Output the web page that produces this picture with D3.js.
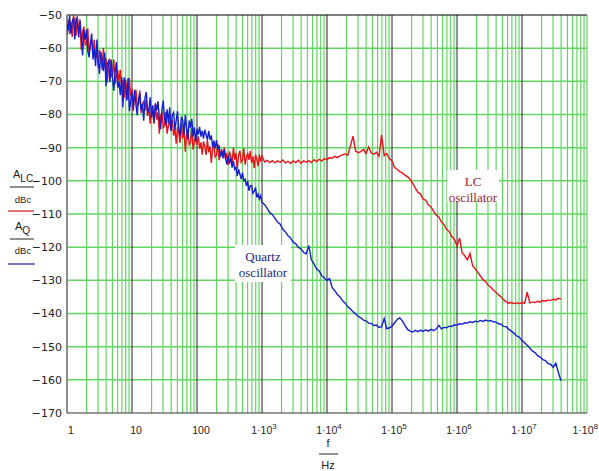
<!DOCTYPE html>
<html><head><meta charset="utf-8">
<script src="https://cdn.jsdelivr.net/npm/d3@7/dist/d3.min.js"></script>
<style>body{margin:0;background:#fff}svg{display:block}</style>
</head><body>
<svg id="c" width="599" height="471"></svg>
<script>
// ---- data ----
const yTickValues = [-170,-160,-150,-140,-130,-120,-110,-100,-90,-80,-70,-60,-50];
const xDecadeExps = [0,1,2,3,4,5,6,7,8];
const xDomain = [1, 1e8];
const yDomain = [-170, -50];
// log10(f) sampling grid of the measurement
const lowStart = 0, lowStep = 0.02;
const highStart = 3.04, highStep = 0.04;

const quartzLow = [-52.6,-54.7,-50.2,-55.6,-52,-50.8,-57.4,-50.8,-52.6,-56.8,
-51.4,-56.8,-62.2,-54.4,-57.4,-54.4,-61,-62.8,-58.6,-55.6,
-63.4,-60.2,-65.4,-57.4,-63.8,-67.8,-61.1,-64,-66.9,-61.4,
-71.5,-64.7,-63.9,-70.3,-63.5,-68.7,-72.8,-67.3,-64.2,-71.9,
-70,-74.2,-68.8,-77.8,-68.8,-71.8,-75.8,-69,-79,-75.8,
-73,-78.3,-72.6,-76.9,-80.2,-75.5,-73.6,-78.7,-76.8,-81.9,
-75,-73.2,-79.4,-78.6,-74.8,-81,-77.2,-82.4,-76.6,-78.8,
-76,-81.2,-84.4,-78.6,-75.8,-81,-83.2,-78.4,-82.6,-77.8,
-85,-80.2,-79.4,-84.6,-81.8,-79,-84.2,-86.4,-80.6,-81.8,
-86,-80.2,-84.4,-87.6,-81.8,-84,-81.3,-86.6,-83.9,-88.2,
-84.3,-86.1,-83.7,-86.7,-84.9,-87.3,-84.6,-86.1,-87.6,-84.9,
-87.6,-86.3,-89.8,-87.9,-90.2,-87.7,-90.6,-89.3,-92.8,-90.9,
-93.2,-90.6,-93.4,-95,-92.4,-94.5,-93.5,-96,-94,-96.5,
-96,-98.5,-96.5,-98,-99.5,-97.5,-100,-99.5,-101.5,-100,
-103,-101.5,-101.4,-103.8,-103.2,-102,-105,-104,-105.5,-104.5,-106.5];
const quartzHigh = [-107.2,-108.3,-109.6,-110.2,-111.3,-112.4,-113.1,-114.6,-115.4,-116.6,
-117.2,-118.5,-119.0,-120.1,-120.5,-121.6,-122.0,-119.5,-123.8,-125.0,
-126.6,-127.2,-128.6,-129.3,-130.0,-129.5,-132.2,-133.1,-134.3,-135.0,
-136.2,-136.9,-138.0,-138.6,-139.5,-140.1,-140.9,-141.3,-142.0,-142.2,
-142.9,-143.0,-143.6,-143.5,-144.2,-144.0,-141.5,-144.6,-144.3,-143.8,
-142.8,-141.8,-141.3,-142.2,-143.6,-144.8,-145.3,-145.6,-145.1,-145.5,
-145.0,-145.4,-144.9,-145.3,-144.8,-145.2,-144.7,-143.6,-144.6,-144.2,
-144.3,-143.8,-143.9,-143.4,-143.5,-143.1,-143.2,-142.8,-142.9,-142.5,
-142.7,-142.3,-142.5,-142.1,-142.4,-142.0,-142.3,-142.1,-142.5,-142.6,
-143.1,-143.3,-143.9,-144.0,-144.8,-145.4,-146.0,-146.8,-147.2,-148.1,
-148.8,-149.6,-150.4,-151.3,-151.8,-152.7,-153.1,-153.9,-154.2,-155.1,
-155.3,-156.2,-155.0,-157.8,-160.3];

const lcLow = [-56,-51.4,-55.8,-52.2,-56.6,-50,-52.6,-56.2,-50.3,-55.4,
-53,-60.5,-55,-53.5,-59,-58.5,-54,-61.5,-59,-57.5,
-61,-57.5,-63,-60.5,-66,-60.5,-63,-66.5,-60,-65.5,
-63,-70.4,-64.8,-63.2,-68.6,-68,-63.4,-70.8,-68.2,-66.6,
-70,-66.5,-72,-69.5,-75,-69.5,-72,-75.5,-69,-74.5,
-72.2,-78.9,-73.9,-72.5,-77.4,-76.9,-72.8,-79.5,-77.2,-75.8,
-78.9,-75.6,-80.4,-78,-82.8,-77.7,-79.8,-82.8,-76.8,-81.6,
-79.2,-85.8,-80.7,-79.2,-84,-83.4,-79.2,-85.8,-83.4,-81.9,
-84.9,-81.6,-86.4,-84,-88.8,-83.7,-85.7,-88.6,-82.5,-87.2,
-84.7,-91.2,-86,-84.4,-89.1,-88.4,-84.1,-90.6,-88.1,-86.5,
-89.2,-86.6,-90.3,-88.4,-92.1,-88.1,-89.8,-92.2,-87.6,-91.4,
-89.6,-94.6,-90.5,-89.2,-92.8,-92.2,-88.8,-93.8,-91.8,-90.5,
-92.7,-90,-93.6,-91.6,-95.2,-91.1,-92.6,-94.8,-90,-93.6,
-91.6,-96.5,-92.3,-90.9,-94.4,-93.7,-90.2,-95.1,-93,-91.6,
-93.7,-91,-94.6,-92.6,-96.2,-92.1,-93.5,-95.6,-92.1,-94.2,-92.5];
const lcHigh = [-94.3,-93.8,-94.5,-93.9,-94.6,-94.0,-94.4,-93.7,-94.6,-94.1,
-94.8,-94.0,-94.5,-93.8,-94.7,-94.0,-94.4,-93.9,-94.5,-93.6,
-94.2,-93.5,-94.0,-93.3,-93.6,-93.0,-93.2,-92.6,-93.0,-92.5,
-92.2,-91.9,-92.3,-89.5,-86.5,-91.0,-91.5,-91.2,-90.5,-91.8,
-89.8,-91.6,-92.0,-91.4,-92.6,-86.2,-92.4,-91.8,-93.3,-94.0,
-96.0,-96.5,-97.2,-97.6,-98.3,-98.8,-99.6,-100.8,-102.2,-103.5,
-104.0,-105.6,-105.8,-107.3,-107.8,-109.2,-110.3,-110.9,-112.4,-113.2,
-114.6,-115.3,-116.8,-117.6,-119.6,-117.2,-121.8,-122.6,-123.8,-121.9,
-125.6,-126.5,-127.6,-128.7,-129.8,-130.4,-131.5,-132.1,-133.0,-133.6,
-134.4,-135.0,-135.9,-136.5,-136.9,-136.7,-137.0,-136.8,-137.0,-136.7,
-136.9,-133.6,-136.8,-136.5,-136.7,-136.3,-136.5,-136.1,-136.3,-135.9,
-136.1,-135.7,-135.9,-135.4,-135.6];

// ---- chart ----
const svg = d3.select('#c');
const L = 67, R = 587, T = 15, B = 413;
const x = d3.scaleLog().domain(xDomain).range([L, R]);
const y = d3.scaleLinear().domain(yDomain).range([B, T]);
const green = '#62d662';

function series(low, high) {
  const a = low.map((v, i) => [Math.pow(10, lowStart + i * lowStep), v]);
  const b = high.map((v, i) => [Math.pow(10, highStart + i * highStep), v]);
  return a.concat(b);
}
const quartz = series(quartzLow, quartzHigh);
const lc = series(lcLow, lcHigh);

// grid: minor verticals
const minor = [];
xDecadeExps.slice(0, -1).forEach(e => { for (let k = 2; k <= 9; k++) minor.push(k * Math.pow(10, e)); });
svg.append('g').selectAll('line').data(minor).join('line')
  .attr('x1', d => x(d)).attr('x2', d => x(d)).attr('y1', T).attr('y2', B)
  .attr('stroke', green).attr('stroke-width', 1.2);
svg.append('line').attr('x1', x(1e8)).attr('x2', x(1e8)).attr('y1', T).attr('y2', B)
  .attr('stroke', green).attr('stroke-width', 1.2);
// horizontal grid
svg.append('g').selectAll('line').data(yTickValues.filter(v => v > -170 && v < -50)).join('line')
  .attr('x1', L).attr('x2', R).attr('y1', d => y(d)).attr('y2', d => y(d))
  .attr('stroke', green).attr('stroke-width', 1.5);
// decade lines
svg.append('g').selectAll('line').data(xDecadeExps.filter(e => e > 0 && e < 8)).join('line')
  .attr('x1', e => x(Math.pow(10, e))).attr('x2', e => x(Math.pow(10, e))).attr('y1', T).attr('y2', B)
  .attr('stroke', '#222').attr('stroke-width', 1);
// frame
svg.append('line').attr('x1', L).attr('x2', R).attr('y1', T).attr('y2', T).attr('stroke', '#000').attr('stroke-width', 1.2);
svg.append('line').attr('x1', L).attr('x2', R).attr('y1', B).attr('y2', B).attr('stroke', '#333').attr('stroke-width', 1.2);
svg.append('line').attr('x1', L).attr('x2', L).attr('y1', T).attr('y2', B).attr('stroke', '#666').attr('stroke-width', 1.5);

// curves
svg.append('defs').append('clipPath').attr('id', 'clip').append('rect')
  .attr('x', L).attr('y', T - 1).attr('width', R - L).attr('height', B - T + 1);
const line = d3.line().x(d => x(d[0])).y(d => y(d[1]));
const cg = svg.append('g').attr('clip-path', 'url(#clip)');
cg.append('path').datum(lc).attr('d', line).attr('fill', 'none').attr('stroke', '#e8141a').attr('stroke-width', 1.4);
cg.append('path').datum(quartz).attr('d', line).attr('fill', 'none').attr('stroke', '#1420d0').attr('stroke-width', 1.4);

// y tick labels
svg.append('g').selectAll('text').data(yTickValues).join('text')
  .attr('x', 62).attr('y', d => y(d)).attr('dy', '0.36em')
  .attr('text-anchor', 'end').attr('font-family', 'DejaVu Sans').attr('font-size', 11).attr('fill', '#222')
  .text(d => '\u2212' + Math.abs(d));

// x tick labels
const xl = svg.append('g').attr('font-family', 'Liberation Sans').attr('font-size', 10.5).attr('fill', '#222');
xDecadeExps.forEach(e => {
  const px = x(Math.pow(10, e));
  if (e < 3) {
    xl.append('text').attr('x', px + 4).attr('y', 434).attr('text-anchor', 'middle').text(String(Math.pow(10, e)));
  } else {
    const last = e === xDecadeExps[xDecadeExps.length - 1];
    const t = xl.append('text').attr('x', last ? 598 : px + 2).attr('y', 434)
      .attr('text-anchor', last ? 'end' : 'middle');
    t.append('tspan').text('1\u00b710');
    t.append('tspan').attr('dy', -5).attr('font-size', 8).text(String(e));
  }
});

// x axis title
const xt = svg.append('g').attr('font-family', 'Liberation Sans').attr('font-size', 11).attr('fill', '#222');
xt.append('text').attr('x', 328).attr('y', 447).attr('text-anchor', 'middle').text('f');
xt.append('line').attr('x1', 319).attr('x2', 338).attr('y1', 454).attr('y2', 454).attr('stroke', '#222');
xt.append('text').attr('x', 328).attr('y', 469).attr('text-anchor', 'middle').text('Hz');

// y axis title
const yt = svg.append('g').attr('font-family', 'Liberation Sans').attr('fill', '#222');
const a1 = yt.append('text').attr('x', 13).attr('y', 178).attr('font-size', 11);
a1.append('tspan').text('A');
a1.append('tspan').attr('dy', 4).attr('font-size', 10).text('LC');
yt.append('line').attr('x1', 10).attr('x2', 34).attr('y1', 187).attr('y2', 187).attr('stroke', '#222');
yt.append('text').attr('x', 23).attr('y', 203).attr('text-anchor', 'middle').attr('font-size', 9.5).text('dBc');
yt.append('line').attr('x1', 8).attr('x2', 34).attr('y1', 211).attr('y2', 211).attr('stroke', '#d01020').attr('stroke-width', 1.2);
const a2 = yt.append('text').attr('x', 15).attr('y', 230).attr('font-size', 11);
a2.append('tspan').text('A');
a2.append('tspan').attr('dy', 4).attr('font-size', 10).text('Q');
yt.append('line').attr('x1', 10).attr('x2', 34).attr('y1', 239).attr('y2', 239).attr('stroke', '#222');
yt.append('text').attr('x', 23).attr('y', 254).attr('text-anchor', 'middle').attr('font-size', 9.5).text('dBc');
yt.append('line').attr('x1', 8).attr('x2', 35).attr('y1', 264).attr('y2', 264).attr('stroke', '#1a1a90').attr('stroke-width', 1.2);

// in-plot labels
function label(cx, top, w, h, lines, color) {
  const g = svg.append('g');
  g.append('rect').attr('x', cx - w / 2).attr('y', top).attr('width', w).attr('height', h).attr('fill', '#fff');
  lines.forEach((s, i) => g.append('text').attr('x', cx).attr('y', top + 16 + i * 16)
    .attr('text-anchor', 'middle').attr('font-family', 'Liberation Serif').attr('font-size', 13)
    .attr('fill', color).text(s));
}
label(263, 245, 56, 37, ['Quartz', 'oscillator'], '#1a237e');
label(473, 170, 52, 31, ['LC', 'oscillator'], '#a5202c');
</script>
</body></html>
